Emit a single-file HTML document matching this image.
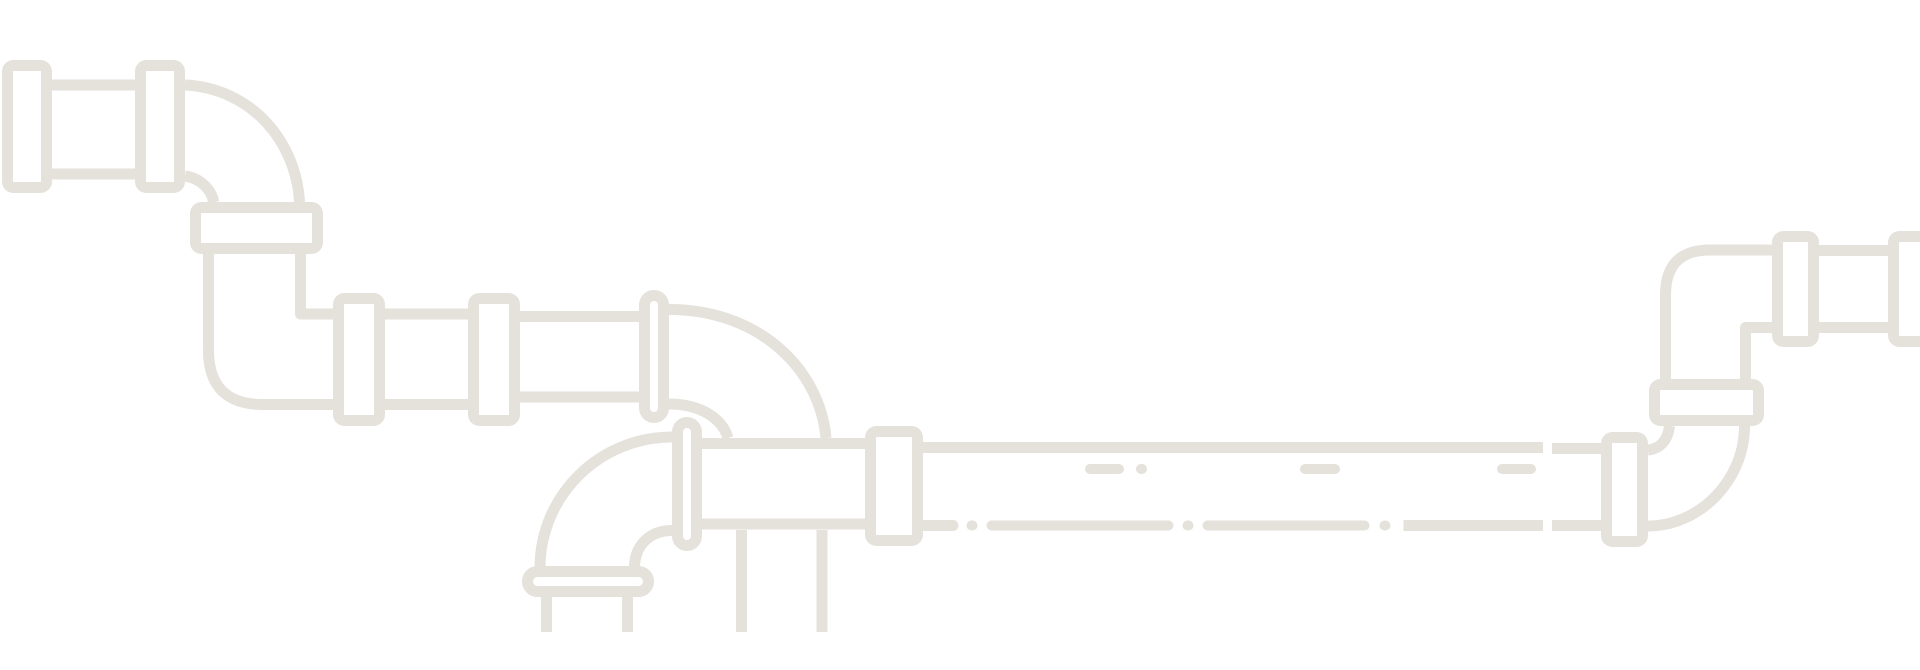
<!DOCTYPE html>
<html><head><meta charset="utf-8"><style>
html,body{margin:0;padding:0;background:#fff;width:1920px;height:670px;overflow:hidden}
svg{display:block}
</style></head><body>
<svg width="1920" height="670" viewBox="0 0 1920 670" xmlns="http://www.w3.org/2000/svg">
<g fill="none" stroke="#e5e2dc" stroke-width="11" stroke-linejoin="round">
<!-- top-left -->
<rect x="7.5" y="65.5" width="39" height="122" rx="6"/>
<line x1="52" y1="85" x2="135" y2="85"/>
<line x1="52" y1="174" x2="135" y2="174"/>
<rect x="140.5" y="65.5" width="39" height="122" rx="6"/>
<path d="M185,85 C250,88 296,140 299.5,202"/>
<path d="M185,176 C200,178 212,190 213.5,202"/>
<rect x="195.5" y="207.5" width="122" height="41" rx="6"/>
<path d="M208.5,254 V350 Q208.5,404.5 263,404.5 H333"/>
<path d="M300.5,254 V314 H333"/>
<rect x="338.5" y="298.5" width="41" height="122" rx="6"/>
<line x1="385" y1="314" x2="468" y2="314"/>
<line x1="385" y1="404.5" x2="468" y2="404.5"/>
<rect x="473.5" y="298.5" width="41" height="122" rx="6"/>
<line x1="520" y1="316.5" x2="639" y2="316.5"/>
<line x1="520" y1="397" x2="639" y2="397"/>
<rect x="644.5" y="295.5" width="19" height="122" rx="9.5"/>
<path d="M669,309.5 C760,309.5 820,370 826,438"/>
<path d="M669,404 C700,404 722,418 728,438"/>
<line x1="702" y1="443.5" x2="865" y2="443.5"/>
<line x1="702" y1="524" x2="865" y2="524"/>
<rect x="677.5" y="422.5" width="19" height="123" rx="9.5"/>
<path d="M672,437 C600,437 540,495 540,568"/>
<path d="M672,530.5 C650,530.5 634.5,545 634.5,568"/>
<rect x="527.5" y="571.5" width="121" height="20" rx="10"/>
<line x1="546.5" y1="597" x2="546.5" y2="632"/>
<line x1="627.5" y1="597" x2="627.5" y2="632"/>
<line x1="741.5" y1="530" x2="741.5" y2="632"/>
<line x1="822" y1="530" x2="822" y2="632"/>
<rect x="870.5" y="431.5" width="47" height="109" rx="6"/>
<line x1="923" y1="447.5" x2="1543" y2="447.5"/>
<line x1="923" y1="525.5" x2="953" y2="525.5" stroke-linecap="round"/>
<!-- dashes -->
<g stroke-linecap="round" stroke-width="10">
<line x1="1090" y1="469" x2="1119" y2="469"/>
<line x1="1141" y1="469" x2="1142" y2="469"/>
<line x1="1305" y1="469" x2="1335" y2="469"/>
<line x1="1502" y1="469" x2="1531" y2="469"/>
<line x1="971.5" y1="525.5" x2="972.5" y2="525.5"/>
<line x1="991.5" y1="525.5" x2="1168.5" y2="525.5"/>
<line x1="1187.5" y1="525.5" x2="1188.5" y2="525.5"/>
<line x1="1207.5" y1="525.5" x2="1364.5" y2="525.5"/>
<line x1="1384.5" y1="525.5" x2="1385.5" y2="525.5"/>
</g>
<line x1="1403.5" y1="525.5" x2="1543" y2="525.5"/>
<!-- right -->
<line x1="1552" y1="448.5" x2="1601" y2="448.5"/>
<line x1="1552" y1="525.5" x2="1601" y2="525.5"/>
<rect x="1606.5" y="437.5" width="36" height="104" rx="6"/>
<path d="M1648,526 C1700,526 1744.5,480 1744.5,426"/>
<path d="M1648,450 C1660,449 1668,440 1669.5,426"/>
<rect x="1654.5" y="384.5" width="104" height="36" rx="6"/>
<path d="M1665.5,379 V295 Q1665.5,250 1710,250 H1772"/>
<path d="M1745.5,379 V327.5 H1772"/>
<rect x="1777.5" y="236.5" width="36" height="105" rx="6"/>
<line x1="1819" y1="250.5" x2="1888" y2="250.5"/>
<line x1="1819" y1="327.5" x2="1888" y2="327.5"/>
<rect x="1893.5" y="236.5" width="40" height="105" rx="6"/>
</g>
</svg>
</body></html>
